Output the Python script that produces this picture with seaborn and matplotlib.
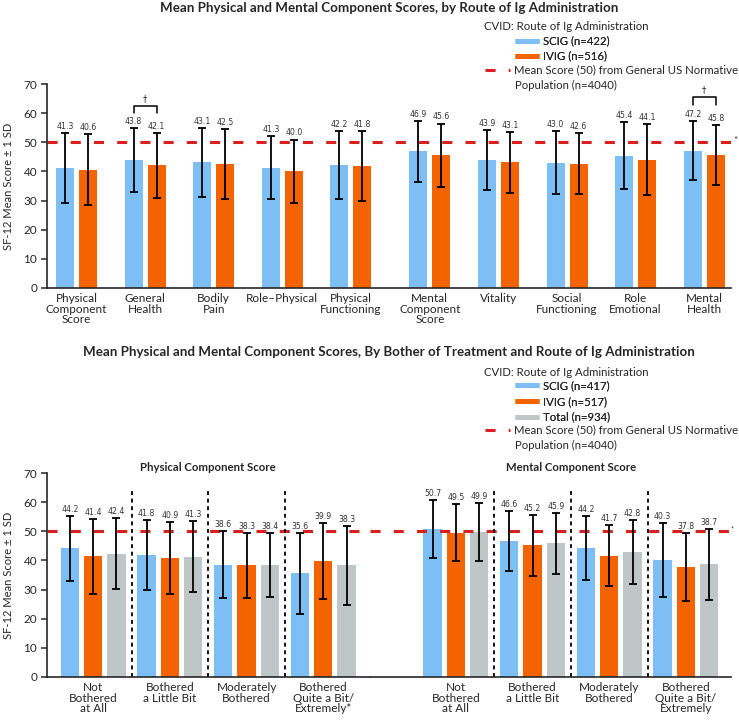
import numpy as np
import pandas as pd
import matplotlib
matplotlib.use("Agg")
import matplotlib.pyplot as plt
from matplotlib.lines import Line2D
import seaborn as sns

# ---- top chart: SF-12 scores by route of Ig administration ----
domains = ["Physical\nComponent\nScore", "General\nHealth", "Bodily\nPain", "Role–Physical",
           "Physical\nFunctioning", "Mental\nComponent\nScore", "Vitality",
           "Social\nFunctioning", "Role\nEmotional", "Mental\nHealth"]
scig_mean = [41.3, 43.8, 43.1, 41.3, 42.2, 46.9, 43.9, 43.0, 45.4, 47.2]
ivig_mean = [40.6, 42.1, 42.5, 40.0, 41.8, 45.6, 43.1, 42.6, 44.1, 45.8]
scig_sd = [12.0, 11.0, 11.9, 10.8, 11.7, 10.6, 10.4, 10.8, 11.6, 10.3]
ivig_sd = [12.3, 11.1, 12.0, 11.0, 12.1, 10.9, 10.4, 10.5, 12.3, 10.3]
dagger_domains = ["General\nHealth", "Mental\nHealth"]

# ---- bottom chart: by bother of treatment ----
pcs_groups = ["Not\nBothered\nat All", "Bothered\na Little Bit", "Moderately\nBothered",
              "Bothered\nQuite a Bit/\nExtremely*"]
mcs_groups = ["Not\nBothered\nat All", "Bothered\na Little Bit", "Moderately\nBothered",
              "Bothered\nQuite a Bit/\nExtremely"]
pcs_scig = [44.2, 41.8, 38.6, 35.6]
pcs_ivig = [41.4, 40.9, 38.3, 39.9]
pcs_total = [42.4, 41.3, 38.4, 38.3]
pcs_scig_sd = [11.2, 12.0, 11.4, 14.0]
pcs_ivig_sd = [12.9, 12.3, 11.3, 13.1]
pcs_total_sd = [12.3, 12.2, 11.1, 13.5]
mcs_scig = [50.7, 46.6, 44.2, 40.3]
mcs_ivig = [49.5, 45.2, 41.7, 37.8]
mcs_total = [49.9, 45.9, 42.8, 38.7]
mcs_scig_sd = [10.0, 10.3, 11.0, 12.7]
mcs_ivig_sd = [9.8, 10.5, 10.5, 11.8]
mcs_total_sd = [10.0, 10.5, 11.0, 12.2]

routes = ["SCIG", "IVIG", "Total"]
top_n = ["SCIG (n=422)", "IVIG (n=516)"]
bot_n = ["SCIG (n=417)", "IVIG (n=517)", "Total (n=934)"]
norm_label = "Mean Score (50) from General US Normative"
norm_label2 = "Population (n=4040)"

# layout / style
domain_pos = [0, 1, 2, 3, 4, 5.15, 6.15, 7.15, 8.15, 9.15]
colors = {"SCIG": "#7DBEF5", "IVIG": "#F36400", "Total": "#BFC6C8"}
red = "#DA1F1F"
dash = (0, (3.3, 4.3))

sns.set_style("ticks")
plt.rcParams["font.family"] = ["Lato", "DejaVu Sans"]
plt.rcParams["axes.linewidth"] = 1.2

fig = plt.figure(figsize=(7.39, 7.2), dpi=100)


def draw_bars(ax, df, order_col, hue_order, width, gap, native):
    sns.barplot(data=df, x=order_col, y="mean", hue="route", hue_order=hue_order,
                palette=colors, native_scale=native, width=width, gap=gap,
                errorbar=None, saturation=1, linewidth=0, legend=False, ax=ax)
    centers = {}
    for route, cont in zip(hue_order, ax.containers):
        sub = df[df["route"] == route]
        xs = [b.get_x() + b.get_width() / 2 for b in cont]
        ax.errorbar(xs, sub["mean"], yerr=sub["sd"], fmt="none", ecolor="black",
                    elinewidth=1.3, capsize=2.6, capthick=1.3, zorder=3)
        for x, m, s in zip(xs, sub["mean"], sub["sd"]):
            ax.annotate(f"{m:.1f}", (x, m + s), xytext=(0, 1.5), textcoords="offset points",
                        ha="center", va="bottom", fontsize=5.6, color="#333333",
                        family="DejaVu Sans")
        centers[route] = xs
    return centers


def style_axis(ax, left=True):
    ax.set_ylim(0, 70)
    ax.set_xlabel("")
    ax.tick_params(axis="x", length=0, pad=4, labelsize=8.5)
    ax.tick_params(axis="y", length=4, width=1.1, pad=3, labelsize=8.5)
    ax.set_yticks(range(0, 71, 10))
    for lab in ax.get_xticklabels():
        lab.set_linespacing(0.95)
    if left:
        ax.set_ylabel("SF-12 Mean Score ± 1 SD", fontsize=8)
        sns.despine(ax=ax)
    else:
        ax.set_ylabel("")
        ax.set_yticks([])
        sns.despine(ax=ax, left=True)
    ax.axhline(50, color=red, lw=2.2, linestyle=dash, zorder=1)


# ---------------- top panel ----------------
top_df = pd.DataFrame({
    "domain": domains * 2,
    "route": ["SCIG"] * len(domains) + ["IVIG"] * len(domains),
    "mean": scig_mean + ivig_mean,
    "sd": scig_sd + ivig_sd,
})
top_df["pos"] = top_df["domain"].map(dict(zip(domains, domain_pos)))

ax_top = fig.add_axes([0.0636, 0.6004, 0.9256, 0.2825])
cen = draw_bars(ax_top, top_df, "pos", ["SCIG", "IVIG"], 0.672, 0.22, True)
ax_top.set_xlim(-0.43, 9.54)
ax_top.set_xticks(domain_pos)
ax_top.set_xticklabels(domains)
style_axis(ax_top)
ax_top.yaxis.set_label_coords(-0.048, 0.5)
ax_top.text(1.004, 50.8, "*", transform=ax_top.get_yaxis_transform(), fontsize=7,
            ha="left", va="center", clip_on=False)

# significance brackets (†)
for d, (lo, hi, dg) in zip(dagger_domains, [(60.0, 62.6, 64.9), (62.8, 65.7, 68.0)]):
    i = domains.index(d)
    x1, x2 = cen["SCIG"][i], cen["IVIG"][i]
    ax_top.plot([x1, x1, x2, x2], [lo, hi, hi, lo], color="black", lw=1.1, clip_on=False)
    ax_top.text((x1 + x2) / 2, dg, "†", ha="center", va="center", fontsize=6,
                family="DejaVu Sans", clip_on=False)

fig.text(0.5264, 0.989, "Mean Physical and Mental Component Scores, by Route of Ig Administration",
         ha="center", va="center", fontsize=9.6, weight="bold")

# ---------------- bottom panels ----------------
def bother_df(groups, means, sds):
    return pd.DataFrame({
        "group": groups * 3,
        "route": [r for r in routes for _ in groups],
        "mean": sum(means, []),
        "sd": sum(sds, []),
    })


pcs_df = bother_df(pcs_groups, [pcs_scig, pcs_ivig, pcs_total],
                   [pcs_scig_sd, pcs_ivig_sd, pcs_total_sd])
mcs_df = bother_df(mcs_groups, [mcs_scig, mcs_ivig, mcs_total],
                   [mcs_scig_sd, mcs_ivig_sd, mcs_total_sd])

ax_l = fig.add_axes([0.0636, 0.0601, 0.4371, 0.2825])
ax_r = fig.add_axes([0.5007, 0.0601, 0.4885, 0.2825])
for ax, df, xlim, left, title in [
        (ax_l, pcs_df, (-0.602, 3.609), True, "Physical Component Score"),
        (ax_r, mcs_df, (-1.119, 3.588), False, "Mental Component Score")]:
    draw_bars(ax, df, "group", routes, 0.912, 0.214, False)
    ax.set_xlim(*xlim)
    style_axis(ax, left)
    ax.vlines([0.5, 1.5, 2.5], 0, 64.5, colors="black", lw=1.3, linestyles=(0, (2.2, 2.0)))
    ax.text(1.5, 72.1, title, ha="center", va="center", fontsize=8.2, weight="bold",
            clip_on=False)
ax_l.yaxis.set_label_coords(-0.102, 0.5)
ax_r.text(1.0, 50.8, "*", transform=ax_r.get_yaxis_transform(), fontsize=5,
          ha="left", va="center", clip_on=False)

fig.text(0.5264, 0.5115,
         "Mean Physical and Mental Component Scores, By Bother of Treatment and Route of Ig Administration",
         ha="center", va="center", fontsize=9.6, weight="bold")


# ---------------- legends ----------------
def add_legend(title_y, patch_mid, labels, route_list, spacing, red_y, pop_y):
    fig.text(0.6553, 1 - title_y / 720, "CVID: Route of Ig Administration", ha="left",
             va="center", fontsize=8.2)
    handles = [Line2D([], [], color=colors[r], lw=3.6, solid_capstyle="butt") for r in route_list]
    lg = fig.legend(handles, labels, loc="center left", bbox_to_anchor=(0.6969, 1 - patch_mid / 720),
                    frameon=False, fontsize=8.2, handlelength=2.1, handletextpad=0.35,
                    borderpad=0, borderaxespad=0, labelspacing=spacing)
    fig.add_artist(lg)
    red_h = Line2D([], [], color=red, lw=2.2, linestyle=dash)
    fig.legend([red_h], [norm_label], loc="center left", bbox_to_anchor=(0.6563, 1 - red_y / 720),
               frameon=False, fontsize=8.2, handlelength=2.2, handletextpad=0.35,
               borderpad=0, borderaxespad=0)
    fig.text(515 / 739, 1 - pop_y / 720, norm_label2, ha="left", va="center", fontsize=8.2)


add_legend(26.7, 48.7, top_n, ["SCIG", "IVIG"], 0.36, 70.0, 85.0)
add_legend(372.3, 401.4, bot_n, routes, 0.42, 430.0, 445.0)

fig.savefig("out.png", dpi=100)
